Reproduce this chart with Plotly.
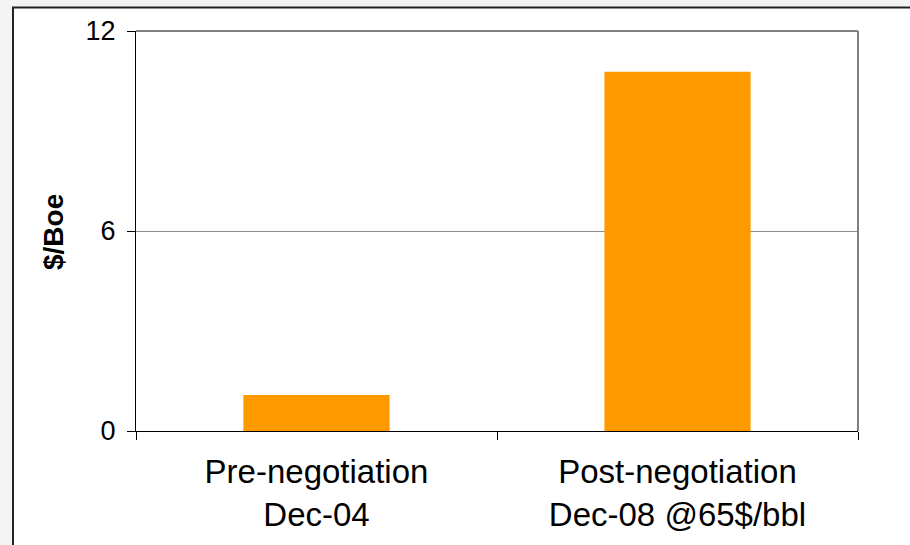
import plotly.graph_objects as go

categories = ["Pre-negotiation<br>Dec-04", "Post-negotiation<br>Dec-08 @65$/bbl"]
values = [1.08, 10.78]
y_ticks = [0, 6, 12]
y_title = "$/Boe"

L, R, T, B = 136, 52, 31, 114
W, H = 910, 545
pw, ph = W - L - R, H - T - B

def px_x(px):
    return (px - L) / pw

def px_y(py):
    return (H - B - py) / ph

fig = go.Figure(go.Bar(x=categories, y=values, marker=dict(color="#FF9900", line=dict(width=0)), width=0.405))

fig.update_layout(
    width=W, height=H,
    margin=dict(l=L, r=R, t=T, b=B),
    paper_bgcolor="#f3f3f3",
    plot_bgcolor="white",
    font=dict(family="Liberation Sans, Arial, sans-serif", color="black"),
    showlegend=False,
    bargap=0.6,
)
fig.update_xaxes(
    showline=True, linecolor="black", linewidth=1,
    ticks="outside", ticklen=8, tickcolor="black", tickson="boundaries",
    tickfont=dict(size=33), showgrid=False, ticklabelstandoff=11,
)
fig.update_yaxes(
    range=[0, 12], tickvals=y_ticks, showline=True, linecolor="black", linewidth=1,
    ticks="outside", ticklen=8, tickcolor="black", tickfont=dict(size=27),
    showgrid=True, gridcolor="#8c8c8c", gridwidth=1, zeroline=False, ticklabelstandoff=6,
)
# outer frame
fig.add_shape(type="rect", xref="paper", yref="paper", x0=px_x(13), x1=px_x(930), y0=px_y(560), y1=px_y(7.5),
              line=dict(color="#222", width=2), fillcolor="white", layer="below")
# plot border top/right (gray)
fig.add_shape(type="line", xref="paper", yref="paper", x0=0, x1=1, y0=1, y1=1, line=dict(color="#808080", width=2))
fig.add_shape(type="line", xref="paper", yref="paper", x0=1, x1=1, y0=0, y1=1, line=dict(color="#808080", width=2))
fig.add_annotation(text="<b>" + y_title + "</b>", xref="paper", yref="paper", x=px_x(54), y=px_y(232),
                   textangle=-90, showarrow=False, font=dict(size=28), xanchor="center", yanchor="middle")
fig.write_html("out.html", config={"displayModeBar": False},
               post_script="document.body.style.margin='0';document.body.style.overflow='hidden';")
